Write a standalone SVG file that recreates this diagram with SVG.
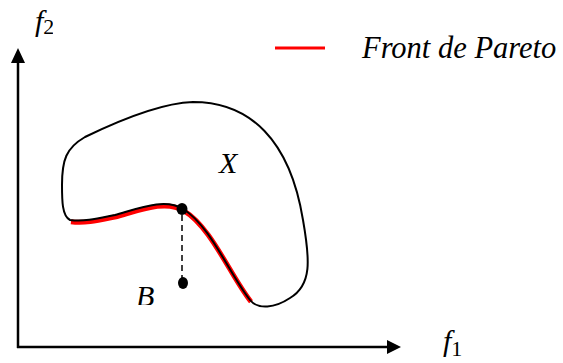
<svg xmlns="http://www.w3.org/2000/svg" width="563" height="363" viewBox="0 0 563 363">
<style>
.ax{stroke:#000;stroke-width:2.5;fill:none}
.t{font-family:"Liberation Serif","Times New Roman",serif;font-style:italic;fill:#000}
</style>
<defs>
<clipPath id="cf2"><rect x="0" y="0" width="53" height="45"/></clipPath>
<clipPath id="cb"><rect x="120" y="270" width="50" height="35"/></clipPath>
<path id="front" d="M 70 220 C 85 222, 100 218, 115 215 C 140 208, 165 198, 183 209 C 210 225, 230 275, 250 300"/>
</defs>
<rect width="563" height="363" fill="#fff"/>
<g id="axes">
<line class="ax" x1="18" y1="60" x2="18" y2="348"/>
<polygon points="18,48 11,63 25,63" fill="#000"/>
<line class="ax" x1="17" y1="347" x2="390" y2="347"/>
<polygon points="401,347 387,340 387,354" fill="#000"/>
</g>
<g id="f2"><text class="t" x="35" y="31" font-size="30" clip-path="url(#cf2)">f<tspan font-size="22" font-style="normal" dy="3">2</tspan></text></g>
<g id="f1"><text class="t" x="443" y="351" font-size="30">f<tspan font-size="22" font-style="normal" dy="5">1</tspan></text></g>
<g id="legend">
<line x1="275" y1="48" x2="325" y2="48" stroke="#f00" stroke-width="3"/>
<text class="t" x="362" y="58" font-size="30.5">Front de Pareto</text>
</g>
<g id="X">
<use href="#front" transform="translate(1,1.8)" fill="none" stroke="#f00" stroke-width="5"/>
<path d="M 70 220 C 62 216, 62 200, 62 185 C 62 160, 66 148, 85 137 C 120 120, 160 103, 193 102 C 250 102, 290 140, 303 220 C 310 260, 312 285, 290 298 C 275 308, 258 310, 250 300 C 230 275, 210 225, 183 209 C 165 198, 140 208, 115 215 C 100 218, 85 222, 70 220 Z" fill="none" stroke="#000" stroke-width="2"/>
<text class="t" x="219" y="173" font-size="30">X</text>
</g>
<g id="connectors">
<line x1="182" y1="215" x2="182" y2="278" stroke="#000" stroke-width="1.5" stroke-dasharray="6,4"/>
</g>
<g id="A"><ellipse cx="182" cy="209" rx="5.5" ry="6" fill="#000"/></g>
<g id="B">
<ellipse cx="183" cy="283" rx="5" ry="6" fill="#000"/>
<text class="t" x="136" y="306" font-size="30" clip-path="url(#cb)">B</text>
</g>
</svg>
